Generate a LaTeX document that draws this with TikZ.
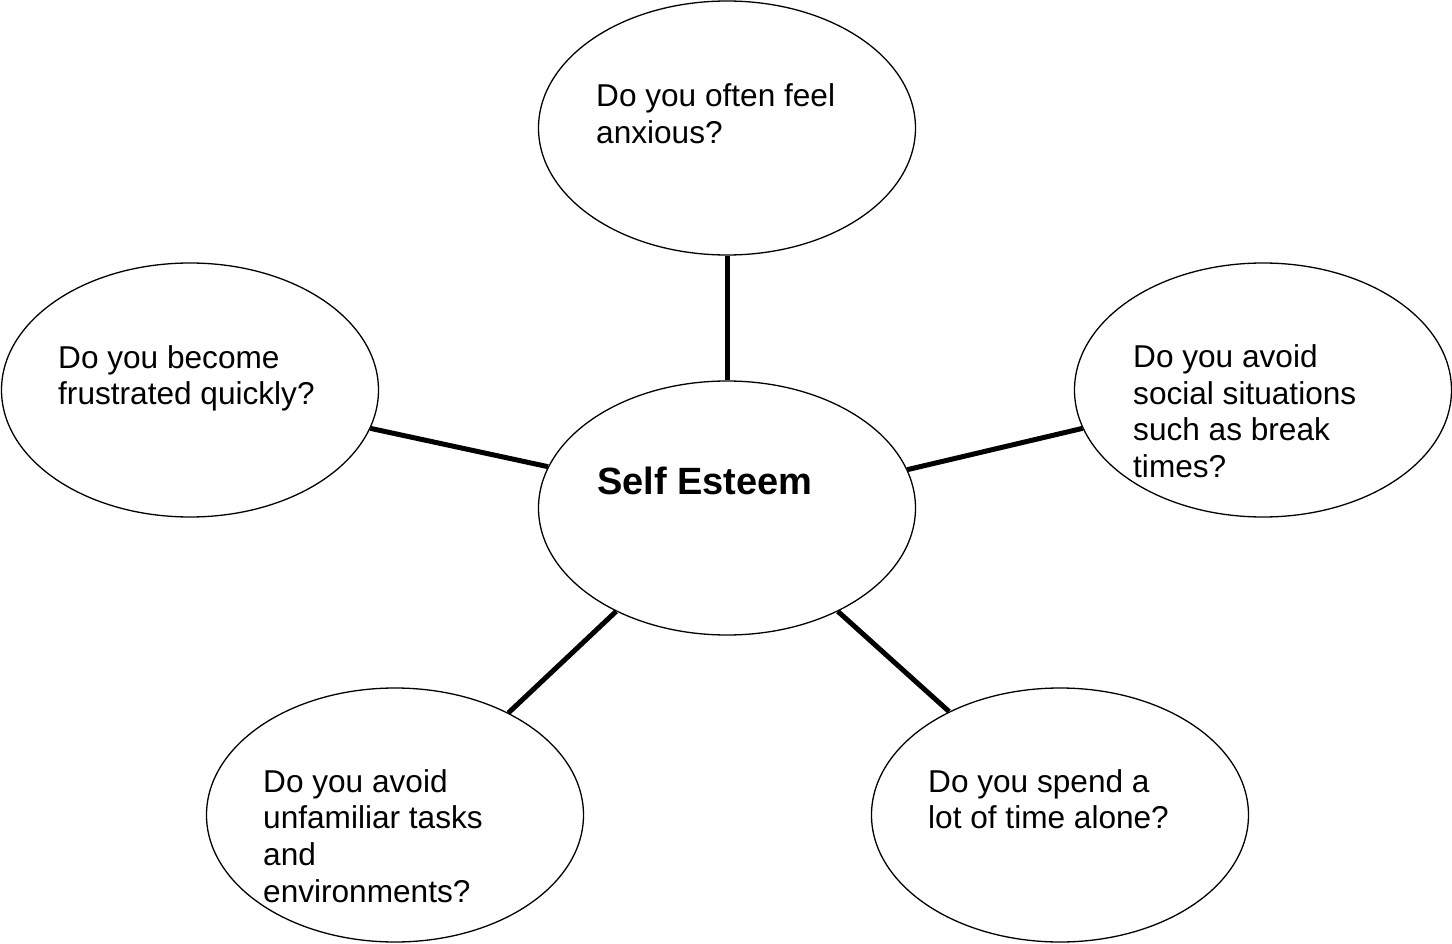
\documentclass[tikz,border=0pt]{standalone}
\usepackage{fontspec}
\setmainfont{Liberation Sans}
\usetikzlibrary{shapes.geometric}
\begin{document}
\begin{tikzpicture}[x=1pt,y=-1pt,
  bubble/.style={ellipse,draw=black,line width=1.3pt,fill=white,minimum width=377pt,minimum height=254pt,inner sep=0pt},
  qtext/.style={anchor=base west,align=left,inner sep=0pt,font=\fontsize{31.6}{36.8}\selectfont},
  ctext/.style={anchor=base west,inner sep=0pt,font=\fontsize{38}{44}\selectfont\bfseries},
  link/.style={draw=black,line width=5pt}]
\useasboundingbox (0,0) rectangle (1452,944);
\node[bubble] (top) at (727,128) {};
\node[bubble] (ctr) at (727,508) {};
\node[bubble] (lft) at (190,390) {};
\node[bubble] (rgt) at (1263,390) {};
\node[bubble] (bl) at (395,815) {};
\node[bubble] (br) at (1060,815) {};
\draw[link] (top.south) -- (ctr.north);
\draw[link] (lft.-12.8) -- (ctr.167.1);
\draw[link] (ctr.12.9) -- (rgt.192.8);
\draw[link] (ctr.223.4) -- (bl.42.3);
\draw[link] (ctr.-43.1) -- (br.137.9);
% base anchor of a multi-line node is the last line's baseline
\node[qtext] (ttop) at (596,143.5) {Do you often feel\\anxious?};
\node[ctext] (tctr) at (597,494) {Self Esteem};
\node[qtext] (tlft) at (58,404.8) {Do you become\\frustrated quickly?};
\node[qtext] (trgt) at (1133,477.6) {Do you avoid\\social situations\\such as break\\times?};
\node[qtext] (tbl) at (263,902.4) {Do you avoid\\unfamiliar tasks\\and\\environments?};
\node[qtext] (tbr) at (928,828.8) {Do you spend a\\lot of time alone?};
\end{tikzpicture}
\end{document}
